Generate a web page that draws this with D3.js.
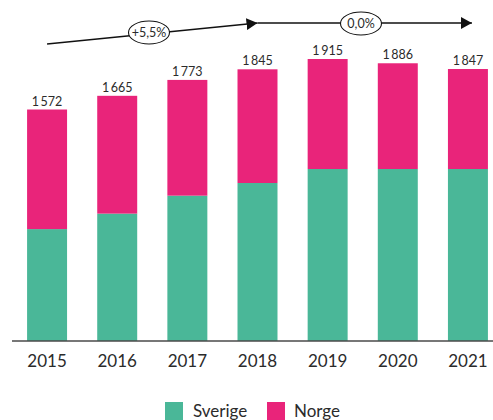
<!DOCTYPE html>
<html>
<head>
<meta charset="utf-8">
<script src="https://cdn.jsdelivr.net/npm/d3@7"></script>
<style>
  body { margin: 0; background: #fff; }
  text { font-family: "Lato", "Noto Sans", sans-serif; fill: #2b2b2b; }
</style>
</head>
<body>
<div id="chart"></div>
<script>
const years = ["2015", "2016", "2017", "2018", "2019", "2020", "2021"];
const sverige = [760, 865, 987, 1073, 1168, 1168, 1168];
const norge = [812, 800, 786, 772, 747, 718, 679];
const totals = [1572, 1665, 1773, 1845, 1915, 1886, 1847];
const seriesNames = ["Sverige", "Norge"];
const seriesColors = ["#4ab798", "#e9247a"];
const trendLabels = ["+5,5%", "0,0%"];

let width = 493, height = 420;
let baseline = 341;

let svg = d3.select("#chart")
    .append("svg")
    .attr("width", width)
    .attr("height", height);

let x = d3.scaleBand().domain(years).range([12, 503]).paddingInner(0.43).paddingOuter(0.215);
let y = d3.scaleLinear().domain([0, 1915]).range([baseline, 59]);

let rows = years.map(function(yr, i) {
    return { year: yr, Sverige: sverige[i], Norge: norge[i] };
});
let stacked = d3.stack().keys(seriesNames)(rows);

svg.append("g")
   .selectAll("g")
   .data(stacked)
   .enter()
   .append("g")
   .attr("fill", function(d, i) { return seriesColors[i]; })
   .selectAll("rect")
   .data(function(d) { return d; })
   .enter()
   .append("rect")
   .attr("x", function(d) { return x(d.data.year); })
   .attr("y", function(d) { return y(d[1]); })
   .attr("width", x.bandwidth())
   .attr("height", function(d) { return y(d[0]) - y(d[1]); });

// axis
let axis = svg.append("g")
   .attr("transform", "translate(0," + baseline + ")")
   .call(d3.axisBottom(x).tickSize(0).tickPadding(10));
axis.select(".domain").remove();
axis.append("line")
   .attr("x1", 12).attr("x2", 493)
   .attr("stroke", "#4a4a4a")
   .attr("stroke-width", 1.6);
axis.selectAll(".tick text")
   .attr("font-family", "Lato, sans-serif")
   .attr("font-size", "17px")
   .attr("fill", "#2b2b2b")
   .attr("dy", "0.95em");

// value labels
let fmt = d3.formatLocale({ thousands: "\u2009", grouping: [3], decimal: "," }).format(",");
svg.append("g")
   .selectAll("text")
   .data(totals)
   .enter()
   .append("text")
   .attr("x", function(d, i) { return x(years[i]) + x.bandwidth() / 2; })
   .attr("y", function(d) { return y(d) - 4; })
   .attr("text-anchor", "middle")
   .attr("font-size", "12.5px")
   .attr("fill", "#333")
   .text(function(d) { return fmt(d); });

// trend arrows
svg.append("defs").append("marker")
   .attr("id", "head")
   .attr("viewBox", "0 0 11 12")
   .attr("refX", 11).attr("refY", 6)
   .attr("markerWidth", 11).attr("markerHeight", 12)
   .attr("markerUnits", "userSpaceOnUse")
   .attr("orient", "auto")
   .append("path")
   .attr("d", "M0,0L11,6L0,12Z")
   .attr("fill", "#111");

let cx = function(yr) { return x(yr) + x.bandwidth() / 2; };
let trends = [
    { x1: cx("2015"), y1: 44, x2: cx("2018"), y2: 23 },
    { x1: cx("2018"), y1: 23, x2: cx("2021") + 4, y2: 23 }
];
trends.forEach(function(t) {
    svg.append("line")
       .attr("x1", t.x1).attr("y1", t.y1)
       .attr("x2", t.x2).attr("y2", t.y2)
       .attr("stroke", "#111")
       .attr("stroke-width", 1.5)
       .attr("marker-end", "url(#head)");
});
let bubbles = [
    { x: 149, y: 32.5, label: trendLabels[0] },
    { x: 361, y: 23.5, label: trendLabels[1] }
];
bubbles.forEach(function(b) {
    svg.append("ellipse")
       .attr("cx", b.x).attr("cy", b.y)
       .attr("rx", 20.5).attr("ry", 11.5)
       .attr("fill", "#fff")
       .attr("stroke", "#111")
       .attr("stroke-width", 1.1);
    svg.append("text")
       .attr("x", b.x).attr("y", b.y + 4.5)
       .attr("text-anchor", "middle")
       .attr("font-size", "12.5px")
       .text(b.label);
});

// legend
let legend = svg.append("g").attr("transform", "translate(165,402)");
let items = [{ x: 0, tx: 28 }, { x: 102, tx: 129 }];
seriesNames.forEach(function(name, i) {
    legend.append("rect")
       .attr("x", items[i].x).attr("y", 0)
       .attr("width", 18).attr("height", 18)
       .attr("fill", seriesColors[i]);
    legend.append("text")
       .attr("x", items[i].tx).attr("y", 15)
       .attr("font-size", "17px")
       .text(name);
});
</script>
</body>
</html>
